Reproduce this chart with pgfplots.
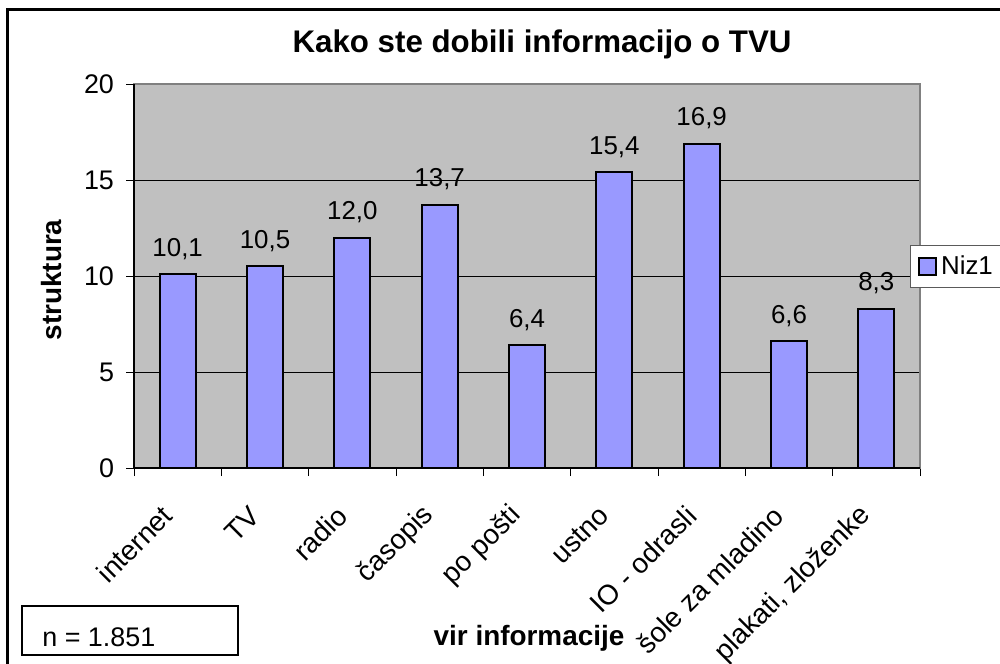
\documentclass[border=0pt]{standalone}
\usepackage{fontspec}
\setmainfont{Liberation Sans}
\usepackage{pgfplots}
\pgfplotsset{compat=1.18}
\definecolor{barcol}{HTML}{9999FF}
\definecolor{plotbg}{HTML}{C0C0C0}
\definecolor{plotborder}{HTML}{808080}
\begin{document}
\begin{tikzpicture}[x=1bp,y=1bp]
\useasboundingbox (0,0) rectangle (500,331.5);
\begin{scope}
\clip (0,0) rectangle (500,331.5);
\draw[line width=1.5bp] (3.5,-20) rectangle (520,326.5);
\end{scope}
\begin{axis}[
  at={(67bp,97.5bp)}, anchor=south west,
  scale only axis, width=393bp, height=192bp,
  xmin=-0.5, xmax=8.5, ymin=0, ymax=20,
  axis background/.style={fill=plotbg},
  axis line style={draw=plotborder, line width=1bp},
  ybar, bar width=18bp,
  ytick={0,5,10,15,20},
  xtick={-0.5,0.5,...,8.5},
  xticklabels={},
  extra x ticks={0,1,...,8},
  extra x tick labels={internet,TV,radio,časopis,po pošti,ustno,IO - odrasli,šole za mladino,{plakati, zloženke}},
  extra x tick style={major tick length=0pt},
  xtick pos=left, ytick pos=left,
  tick align=outside,
  major tick length=4bp,
  tick style={black, line width=0.5bp},
  ymajorgrids,
  major grid style={black, line width=0.5bp},
  /pgf/number format/assume math mode=true,
  yticklabel style={font=\fontsize{13.5}{15}\selectfont, xshift=-2.5bp},
  xticklabel style={font=\fontsize{14}{16}\selectfont, inner sep=0pt, anchor=east, xshift=-5bp, yshift=-21.5bp, rotate=45},
  nodes near coords={\pgfmathprintnumber[fixed,fixed zerofill,precision=1,use comma,assume math mode=true]{\pgfplotspointmeta}},
  every node near coord/.append style={font=\fontsize{13}{15}\selectfont, inner sep=0pt, text depth=0pt, anchor=south, yshift=8.5bp, black},
  legend style={at={(0.987,0.525)}, anchor=west, draw=plotborder!70!black, fill=white, line width=0.7bp, font=\fontsize{13}{15}\selectfont, inner xsep=4bp, inner ysep=3bp},
  legend cell align=left,
  legend image code/.code={\draw[fill=barcol,draw=black,line width=0.8bp] (0bp,-4.25bp) rectangle (8.5bp,4.25bp);},
  clip=false,
]
\addplot[fill=barcol, draw=black, line width=1bp] coordinates {(0,10.1) (1,10.5) (2,12.0) (3,13.7) (4,6.4) (5,15.4) (6,16.9) (7,6.6) (8,8.3)};
\addlegendentry{Niz1}
\draw[black, line width=1bp] (rel axis cs:0,1) -- (rel axis cs:0,0) -- (rel axis cs:1,0);
\end{axis}
\node[anchor=base, font=\bfseries\fontsize{15.7}{18}\selectfont] at (271,305.5) {Kako ste dobili informacijo o TVU};
\node[rotate=90, font=\bfseries\fontsize{14}{16}\selectfont] at (26,191.5) {struktura};
\node[anchor=base, font=\bfseries\fontsize{14}{16}\selectfont] at (264.5,9) {vir informacije};
\draw[line width=1bp] (11,4) rectangle (119,28.5);
\node[anchor=base west, font=\fontsize{13.5}{15}\selectfont, inner sep=0pt] at (21,8.5) {n = 1.851};
\end{tikzpicture}
\end{document}
